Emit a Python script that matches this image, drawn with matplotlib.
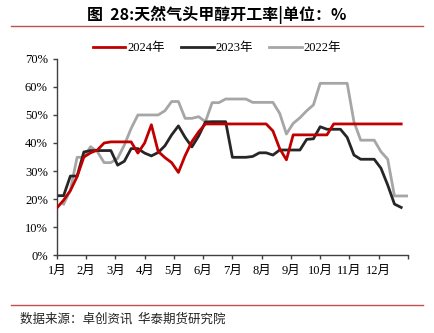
import numpy as np
import matplotlib
matplotlib.use("Agg")
import matplotlib.pyplot as plt
from matplotlib.lines import Line2D

plt.rcParams['font.family'] = ['Liberation Serif', 'Noto Sans CJK SC']

# weekly operating rate (%), week index 0..52 across the year
months = ['1月', '2月', '3月', '4月', '5月', '6月', '7月', '8月', '9月', '10月', '11月', '12月']

rate_2024 = [16.8, 19.6, 23.0, 28.0, 35.0, 36.5, 37.5, 40.0, 40.4, 40.4, 40.4, 40.4,
             36.4, 40.0, 46.5, 37.0, 34.8, 33.0, 29.5, 35.5, 40.5, 44.0, 46.8, 46.8,
             46.8, 46.8, 46.8, 46.8, 46.8, 46.8, 46.8, 46.8, 44.3, 38.0, 34.0, 42.9,
             42.9, 42.9, 42.9, 42.9, 42.9, 46.8, 46.8, 46.8, 46.8, 46.8, 46.8, 46.8,
             46.8, 46.8, 46.8, 46.8]
weeks_2024 = list(range(52))

rate_2023 = [21.2, 21.2, 28.2, 28.2, 36.8, 37.3, 37.3, 37.3, 37.3, 32.1, 33.5, 38.0,
             38.0, 36.4, 35.4, 36.6, 39.0, 42.9, 46.1, 42.0, 38.6, 42.5, 47.5, 47.6,
             47.6, 47.6, 34.9, 34.9, 34.9, 35.2, 36.5, 36.5, 35.7, 37.5, 37.5, 37.5,
             37.5, 41.3, 41.5, 45.8, 44.9, 44.9, 44.9, 42.0, 35.7, 34.2, 34.2, 34.2,
             31.0, 25.0, 18.2, 17.0]
weeks_2023 = list(range(52))

rate_2022 = [18.2, 23.2, 34.9, 34.9, 38.7, 36.9, 33.0, 33.0, 34.5, 39.3, 45.2, 50.0,
             50.0, 50.0, 50.0, 51.5, 54.8, 54.8, 48.8, 48.8, 49.4, 47.6, 54.4, 54.4,
             55.7, 55.7, 55.7, 55.7, 54.5, 54.5, 54.5, 54.5, 50.6, 43.2, 47.0, 49.0,
             51.5, 53.6, 61.3, 61.3, 61.3, 61.3, 61.3, 47.6, 41.0, 41.0, 41.0, 36.9,
             34.2, 21.1, 21.1, 21.1]
weeks_2022 = list(range(1, 53))

fig = plt.figure(figsize=(4.34, 3.33), dpi=100)
ax = fig.add_axes([0.131, 0.234, 0.809, 0.589])

ax.plot(weeks_2024, rate_2024, color='#C00000', lw=2.0, label='2024年', zorder=3)
ax.plot(weeks_2023, rate_2023, color='#262626', lw=2.0, label='2023年', zorder=2)
ax.plot(weeks_2022, rate_2022, color='#A6A6A6', lw=2.0, label='2022年', zorder=1)

ax.set_xlim(0, 52)
ax.set_ylim(0, 70)
ax.set_yticks(np.arange(0, 71, 10))
ax.set_yticklabels([f'{v}%' for v in range(0, 71, 10)])
step = 52 / 12
ax.set_xticks([i * step for i in range(13)])
ax.set_xticklabels(months + [''])

for s in ['top', 'right']:
    ax.spines[s].set_visible(False)
for s in ['left', 'bottom']:
    ax.spines[s].set_color('#404040')
    ax.spines[s].set_linewidth(1.0)
ax.tick_params(axis='both', direction='out', length=3, width=1.0, color='#404040',
               labelsize=9, labelcolor='#000000')
ax.tick_params(axis='x', pad=4)

fig.legend(loc='center', bbox_to_anchor=(0.5, 0.855), ncol=3, frameon=False,
           fontsize=9, handlelength=2.6, handletextpad=0.15, columnspacing=1.3)

fig.text(0.5, 0.955, '图  28:天然气头甲醇开工率|单位：%', ha='center', va='center',
         fontsize=11.5, fontweight='bold', family=['Noto Sans CJK SC', 'DejaVu Sans'])
fig.add_artist(Line2D([0.025, 0.975], [0.922, 0.922], color='#C0504D', lw=1.0))
fig.add_artist(Line2D([0.025, 0.975], [0.084, 0.084], color='#C0504D', lw=1.0))
fig.text(0.046, 0.042, '数据来源：卓创资讯  华泰期货研究院', ha='left', va='center',
         fontsize=9, color='#222222', family=['Noto Sans CJK SC', 'DejaVu Sans'])

fig.savefig('out.png', dpi=100)
